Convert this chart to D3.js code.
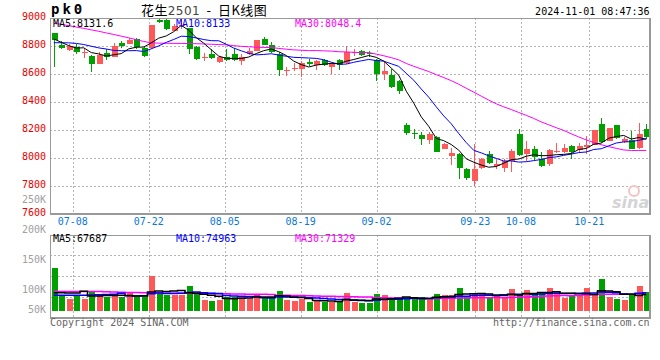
<!DOCTYPE html>
<html><head><meta charset="utf-8">
<script src="https://cdn.jsdelivr.net/npm/d3@7/dist/d3.min.js"></script>
<style>
html,body{margin:0;padding:0;background:#fff;}
svg{display:block;}
text{font-family:"DejaVu Sans Mono",monospace;font-size:10px;}
</style></head><body>
<svg id="c" width="660" height="360"></svg>
<script>
// ---------- data ----------
const dates = ["07-03","07-04","07-05","07-08","07-09","07-10","07-11","07-12","07-15","07-16",
"07-17","07-18","07-19","07-22","07-23","07-24","07-25","07-26","07-29","07-30",
"07-31","08-01","08-02","08-05","08-06","08-07","08-08","08-09","08-12","08-13",
"08-14","08-15","08-16","08-19","08-20","08-21","08-22","08-23","08-26","08-27",
"08-28","08-29","08-30","09-02","09-03","09-04","09-05","09-06","09-09","09-10",
"09-11","09-12","09-13","09-18","09-19","09-20","09-23","09-24","09-25","09-26",
"09-27","09-30","10-08","10-09","10-10","10-11","10-14","10-15","10-16","10-17",
"10-18","10-21","10-22","10-23","10-24","10-25","10-28","10-29","10-30","10-31"];
const opens = [8895,8804,8773,8792,8757,8728,8669,8752,8723,8823,8816,8852,8783,8788,8988,8985,8910,8948,8926,8792,
8719,8740,8688,8721,8745,8692,8740,8762,8850,8809,8745,8624,8641,8638,8683,8666,8702,8647,8702,8678,
8752,8766,8747,8702,8600,8595,8547,8231,8176,8159,8126,8147,8059,8012,8024,7921,7833,7924,8024,7940,
7928,7976,8166,8023,8059,7993,7952,8040,8040,8083,8054,8078,8090,8238,8119,8231,8114,8126,8069,8202];
const highs = [8895,8835,8812,8812,8783,8735,8759,8776,8823,8835,8854,8859,8792,8950,8995,8990,8955,8990,8931,8800,
8752,8776,8728,8776,8788,8745,8783,8845,8864,8831,8755,8650,8678,8690,8707,8702,8707,8678,8707,8802,
8781,8774,8762,8707,8690,8635,8554,8250,8207,8183,8183,8154,8107,8071,8035,7928,8095,8000,8047,7988,
7988,8059,8202,8119,8083,8040,8064,8107,8095,8088,8107,8155,8195,8285,8214,8231,8150,8190,8245,8243];
const lows = [8650,8776,8764,8745,8712,8614,8669,8697,8723,8783,8816,8776,8721,8776,8962,8915,8905,8920,8745,8697,
8693,8705,8681,8693,8693,8664,8735,8762,8804,8750,8588,8583,8619,8576,8655,8626,8655,8602,8631,8674,
8726,8726,8721,8547,8559,8500,8459,8159,8131,8088,8095,8040,8059,7945,7850,7840,7797,7921,7957,7916,
7897,7897,8012,7976,7976,7935,7940,8035,8031,7993,8040,8023,8090,8107,8119,8131,8107,8059,8059,8131];
const closes = [8840,8783,8797,8754,8759,8669,8735,8721,8800,8800,8840,8792,8728,8950,8969,8919,8945,8952,8776,8704,
8721,8712,8721,8700,8697,8721,8764,8845,8804,8754,8626,8628,8645,8678,8669,8695,8662,8671,8666,8759,
8756,8733,8743,8600,8624,8507,8476,8174,8172,8131,8166,8043,8095,8035,7928,7857,7921,7993,7959,7952,
7976,8047,8016,8059,8007,7940,8054,8045,8071,8040,8083,8090,8195,8114,8214,8142,8131,8064,8170,8151];
const volumes = [192000,70000,53000,70000,53000,89000,70000,61000,70000,61000,80000,61000,61000,157000,86000,70000,70000,70000,111000,74000,
49000,44000,49000,64000,64000,61000,53000,70000,61000,64000,89000,49000,45000,55000,38000,49000,40000,41000,41000,80000,
41000,36000,36000,76000,70000,56000,47000,61000,61000,61000,47000,76000,69000,72000,102000,61000,80000,76000,61000,69000,
61000,98000,69000,93000,69000,80000,102000,84000,58000,69000,69000,102000,69000,142000,61000,53000,49000,69000,111000,84000];
// moving-average values before a full window exists
const ma5Lead = [8850,8826,8802,8785];
const ma10Lead = [8823,8823,8822,8818,8810,8798,8786,8778,8768];
const ma30Lead = [8962,8955,8945,8935,8926,8915,8905,8893,8882,8870,8858,8845,8832,8822,8820,8819,8818,8818,8817,8816,
8814,8812,8810,8808,8802,8797,8794,8791,8789];
const volMa5Lead = [81000,81000,80000,80000];
const volMa10Lead = [70000,70000,70000,70000,70000,71000,72000,73000,75000];
const volMa30Lead = [87000,87000,87000,87000,87000,87000,87000,86000,84000,83000,82000,82000,81000,80000,80000,79000,79000,79000,79000,78000,
78000,78000,77000,77000,76000,76000,75000,75000,74000];
const priceTicks = [9000,8800,8600,8400,8200,8000,7800,7600];
const volTicks = [250000,200000,150000,100000,50000];
const dateTicks = ["07-08","07-22","08-05","08-19","09-02","09-23","10-08","10-21"];
const priceMaLabels = ["MA5:8131.6","MA10:8133","MA30:8048.4"];
const volMaLabels = ["MA5:67687","MA10:74963","MA30:71329"];
const titleCode = "pk0";
const titleText = ["花生","2501","  -  日K线图"];
const stamp = "2024-11-01 08:47:36";

// ---------- layout ----------
const L=50, R=650, PT=18, PB=213.5, VT=234.7, VB=317.7, VBASE=311;
const UP="#ff5858", DOWN="#00a000", MA5C="#000000", MA10C="#0000ff", MA30C="#ff00ff";
const n = dates.length;
const svg = d3.select("#c");

const xb = d3.scaleBand().domain(d3.range(n)).range([L,R]).paddingInner(0.2).paddingOuter(0.1);
const gx = d3.scaleLinear().domain([0,n-1]).range([L,R]);
const y = d3.scaleLinear().domain([7600,9000]).range([PB,PT]);
const yv = d3.scaleLinear().domain([0,340000]).range([VBASE,234.5]);
const yvLab = d3.scaleLinear().domain([100000,250000]).range([293.3,203.3]);

function ma(arr,w,lead){return arr.map((_,i)=> i<w-1 ? lead[i] : d3.mean(arr.slice(i-w+1,i+1)));}
const cx = i => Math.round(xb(i)+xb.bandwidth()/2);

// ---------- grids ----------
const grid = svg.append("g").attr("stroke","#b4b4b4").attr("stroke-dasharray","2,2").attr("stroke-width",1).attr("shape-rendering","crispEdges");
priceTicks.slice(1,-1).forEach(t=>{
  grid.append("line").attr("x1",L).attr("x2",R).attr("y1",Math.round(y(t))+0.5).attr("y2",Math.round(y(t))+0.5);
});
for(let k=1;k<4;k++){
  const yy=Math.round(VT+(VB-VT)*k/4)+0.5;
  grid.append("line").attr("x1",L).attr("x2",R).attr("y1",yy).attr("y2",yy);
}
dateTicks.forEach(d=>{
  const i=dates.indexOf(d); const xx=Math.round(gx(i))+0.5;
  grid.append("line").attr("x1",xx).attr("x2",xx).attr("y1",PT).attr("y2",PB);
  grid.append("line").attr("x1",xx).attr("x2",xx).attr("y1",VT).attr("y2",VB);
});

// ---------- watermark ----------
svg.append("circle").attr("cx",634).attr("cy",191).attr("r",5).attr("fill","none").attr("stroke","#f3c4c4").attr("stroke-width",2);
svg.append("text").attr("x",612).attr("y",208).attr("fill","#d4d4d4")
  .style("font-family","DejaVu Sans").style("font-size","16px").style("font-style","italic").style("font-weight","bold").text("sina");

// ---------- candles ----------
const cg = svg.append("g").attr("shape-rendering","crispEdges");
d3.range(n).forEach(i=>{
  const o=opens[i], c=closes[i], col = c>=o?UP:DOWN, xx=cx(i);
  cg.append("line").attr("x1",xx+0.5).attr("x2",xx+0.5).attr("y1",y(highs[i])).attr("y2",y(lows[i])).attr("stroke",col).attr("stroke-width",1);
  const top=y(Math.max(o,c)), h=Math.max(1,Math.abs(y(o)-y(c)));
  cg.append("rect").attr("x",xx-2.5).attr("width",6).attr("y",top).attr("height",h).attr("fill",col);
});

// ---------- price MA lines ----------
const line = d3.line().x((d,i)=>xb(i)+xb.bandwidth()/2).y(d=>y(d));
[[ma(closes,30,ma30Lead),MA30C],[ma(closes,10,ma10Lead),MA10C],[ma(closes,5,ma5Lead),MA5C]].forEach(([s,c])=>{
  svg.append("path").attr("d",line(s)).attr("fill","none").attr("stroke",c).attr("stroke-width",1);
});

// ---------- volume ----------
const vg = svg.append("g").attr("shape-rendering","crispEdges");
d3.range(n).forEach(i=>{
  const col = closes[i]>=opens[i]?UP:DOWN, xx=cx(i);
  vg.append("rect").attr("x",xx-2.5).attr("width",6).attr("y",yv(volumes[i])).attr("height",VBASE-yv(volumes[i])).attr("fill",col);
});
const vline = d3.line().curve(d3.curveStep).x((d,i)=>xb(i)+xb.bandwidth()/2).y(d=>yv(d));
[[ma(volumes,30,volMa30Lead),MA30C],[ma(volumes,10,volMa10Lead),MA10C],[ma(volumes,5,volMa5Lead),MA5C]].forEach(([s,c])=>{
  svg.append("path").attr("d",vline(s)).attr("fill","none").attr("stroke",c).attr("stroke-width",1.5);
});

// ---------- frames ----------
const fr = svg.append("g").attr("stroke","#999").attr("shape-rendering","crispEdges");
[[PT,PB],[VT,VB]].forEach(([t,b])=>{
  fr.append("line").attr("x1",L+0.5).attr("x2",L+0.5).attr("y1",t).attr("y2",b).attr("stroke-width",1);
  fr.append("line").attr("x1",L).attr("x2",R).attr("y1",t+0.5).attr("y2",t+0.5).attr("stroke-width",1);
  fr.append("line").attr("x1",R).attr("x2",R).attr("y1",t).attr("y2",b+1).attr("stroke-width",2);
  fr.append("line").attr("x1",L).attr("x2",R+1).attr("y1",b).attr("y2",b).attr("stroke-width",2);
});

// ---------- axis labels ----------
priceTicks.forEach(t=>{
  svg.append("text").attr("x",46).attr("y",y(t)+2).attr("text-anchor","end").attr("fill","#e60000").text(t);
});
volTicks.forEach(v=>{
  svg.append("text").attr("x",46).attr("y",Math.min(yvLab(v),313.3)).attr("text-anchor","end").attr("fill","#a0a0a0").text((v/1000)+"K");
});
dateTicks.forEach(d=>{
  svg.append("text").attr("x",gx(dates.indexOf(d))).attr("y",225).attr("text-anchor","middle").attr("fill","#0a78d6").text(d);
});

// ---------- legends ----------
const legX=[53,176,295], legC=[MA5C,MA10C,MA30C];
priceMaLabels.forEach((t,i)=>svg.append("text").attr("x",legX[i]).attr("y",27).attr("fill",legC[i]).text(t));
volMaLabels.forEach((t,i)=>svg.append("text").attr("x",legX[i]).attr("y",241.5).attr("fill",legC[i]).text(t));

// ---------- header/footer ----------
svg.append("text").attr("x",51).attr("y",14).attr("fill","#000")
  .style("font-size","14px").style("font-weight","bold").style("letter-spacing","3px").text(titleCode);
const tt = svg.append("text").attr("x",141).attr("y",15).attr("fill","#000").style("white-space","pre")
  .style("font-family","'Noto Sans CJK SC',sans-serif").style("font-size","13px").style("letter-spacing","0.4px");
tt.append("tspan").text(titleText[0]);
tt.append("tspan").attr("fill","#444").style("font-family","'DejaVu Sans',sans-serif").style("font-size","12px").text(titleText[1]);
tt.append("tspan").style("white-space","pre").text(titleText[2]);
svg.append("text").attr("x",649.5).attr("y",15).attr("text-anchor","end").attr("fill","#000").text(stamp);
svg.append("text").attr("x",50).attr("y",325.5).attr("fill","#666").text("Copyright 2024 SINA.COM");
svg.append("text").attr("x",649.5).attr("y",325.5).attr("text-anchor","end").attr("fill","#666").text("http://finance.sina.com.cn");
</script>
</body></html>
